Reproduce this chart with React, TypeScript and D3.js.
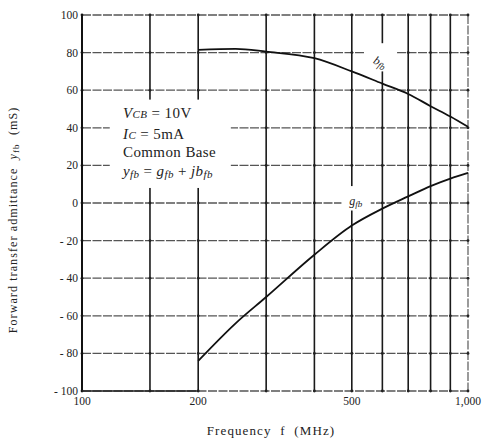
import React from "react";
import * as d3 from "d3";

const freqB = [200, 250, 300, 400, 500, 600, 700, 800, 900, 1000];
const bfb = [81.5, 82, 80.5, 77, 70, 63.5, 58, 51.5, 46, 40.5];
const freqG = [200, 250, 300, 400, 500, 600, 700, 800, 900, 1000];
const gfb = [-84, -64, -50, -27.5, -12, -3, 3.5, 9, 13, 16];
const xGrid = [100, 150, 200, 300, 400, 500, 600, 700, 800, 900, 1000];
const xTickLabels = [
  { v: 100, t: "100" },
  { v: 200, t: "200" },
  { v: 500, t: "500" },
  { v: 1000, t: "1,000" },
];
const yTicks = [100, 80, 60, 40, 20, 0, -20, -40, -60, -80, -100];

const W = 485;
const H = 444;
const left = 82;
const right = 468;
const top = 15;
const bottom = 391;
const SERIF = "'Liberation Serif', 'DejaVu Serif', serif";

export default function App() {
  const x = d3.scaleLog().domain([100, 1000]).range([left, right]);
  const y = d3.scaleLinear().domain([-100, 100]).range([bottom, top]);

  const line = d3
    .line<[number, number]>()
    .x((d) => x(d[0]))
    .y((d) => y(d[1]))
    .curve(d3.curveMonotoneX);

  const bPath = line(freqB.map((f, i) => [f, bfb[i]]) as [number, number][]) || "";
  const gPath = line(freqG.map((f, i) => [f, gfb[i]]) as [number, number][]) || "";

  // white gaps behind text (in data space)
  const gaps = [
    { x0: 118, x1: 243, y0: 8, y1: 55 },
    { x0: 540, x1: 655, y0: 70, y1: 85 },
    { x0: 470, x1: 560, y0: -4, y1: 9 },
  ];

  const fmtY = (v: number) => (v < 0 ? "- " + Math.abs(v) : String(v));

  return (
    <svg
      width={W}
      height={H}
      style={{ position: "absolute", left: 0, top: 0, background: "#fff" }}
      fontFamily={SERIF}
    >
      <rect x={0} y={0} width={W} height={H} fill="#fff" />
      {/* horizontal grid */}
      {yTicks.map((v) => (
        <line
          key={"h" + v}
          x1={left}
          x2={right}
          y1={y(v)}
          y2={y(v)}
          stroke="#555"
          strokeWidth={1.3}
          strokeDasharray="9,1.5"
        />
      ))}
      {/* vertical grid */}
      {xGrid.map((v) => (
        <line
          key={"v" + v}
          x1={x(v)}
          x2={x(v)}
          y1={top}
          y2={bottom}
          stroke={v === 1000 ? "#666" : "#1a1a1a"}
          strokeWidth={v === 1000 ? 1.3 : 1.6}
          strokeDasharray={v === 1000 ? "9,1.5" : undefined}
        />
      ))}
      {/* intersection dots */}
      {xGrid.flatMap((xv) =>
        yTicks.map((yv) => (
          <circle key={"d" + xv + "_" + yv} cx={x(xv)} cy={y(yv)} r={1.4} fill="#222" />
        ))
      )}
      {/* left axis */}
      <line x1={left} x2={left} y1={top - 1} y2={bottom + 1} stroke="#111" strokeWidth={2} />
      <line x1={left} x2={x(200)} y1={bottom} y2={bottom} stroke="#222" strokeWidth={1.6} />
      {/* gaps */}
      {gaps.map((g, i) => (
        <rect
          key={"g" + i}
          x={x(g.x0)}
          y={y(g.y1)}
          width={x(g.x1) - x(g.x0)}
          height={y(g.y0) - y(g.y1)}
          fill="#fff"
        />
      ))}
      {/* curves */}
      <path d={bPath} fill="none" stroke="#111" strokeWidth={1.8} />
      <path d={gPath} fill="none" stroke="#111" strokeWidth={1.8} />
      {/* y tick labels */}
      {yTicks.map((v) => (
        <text
          key={"yl" + v}
          x={left - 4}
          y={y(v)}
          dy="0.35em"
          textAnchor="end"
          fontSize={11.5}
          fill="#222"
        >
          {fmtY(v)}
        </text>
      ))}
      {/* x tick labels */}
      {xTickLabels.map((d) => (
        <text
          key={"xl" + d.v}
          x={x(d.v)}
          y={bottom + 14}
          textAnchor="middle"
          fontSize={11.5}
          fill="#222"
        >
          {d.t}
        </text>
      ))}
      {/* axis titles */}
      <text
        x={271}
        y={435}
        textAnchor="middle"
        fontSize={13}
        letterSpacing={1.1}
        fill="#222"
        style={{ whiteSpace: "pre" }}
      >
        {"Frequency  f  (MHz)"}
      </text>
      <text
        transform={`translate(17,220) rotate(-90)`}
        textAnchor="middle"
        fontSize={12}
        letterSpacing={1.1}
        fill="#222"
        style={{ whiteSpace: "pre" }}
      >
        {"Forward transfer admittance  "}
        <tspan fontStyle="italic">y</tspan>
        <tspan fontSize={9} dy={2}>fb</tspan>
        <tspan dy={-2}>{"  (mS)"}</tspan>
      </text>
      {/* condition box */}
      <g fontSize={15} fill="#222" letterSpacing={0.4}>
        <text x={123} y={118}>
          <tspan fontStyle="italic">V</tspan>
          <tspan fontStyle="italic" fontSize={11}>CB</tspan>
          <tspan>{" = 10V"}</tspan>
        </text>
        <text x={123} y={138.5}>
          <tspan fontStyle="italic">I</tspan>
          <tspan fontStyle="italic" fontSize={11}>C</tspan>
          <tspan>{" = 5mA"}</tspan>
        </text>
        <text x={123} y={157}>Common Base</text>
        <text x={123} y={176}>
          <tspan fontStyle="italic">y</tspan>
          <tspan fontStyle="italic" fontSize={11} dy={2}>fb</tspan>
          <tspan dy={-2}>{" = "}</tspan>
          <tspan fontStyle="italic">g</tspan>
          <tspan fontStyle="italic" fontSize={11} dy={2}>fb</tspan>
          <tspan dy={-2}>{" + "}</tspan>
          <tspan fontStyle="italic">jb</tspan>
          <tspan fontStyle="italic" fontSize={11} dy={2}>fb</tspan>
        </text>
      </g>
      {/* curve labels */}
      <text
        transform={`translate(${x(585)},${y(73)}) rotate(28)`}
        fontSize={12}
        fontStyle="italic"
        textAnchor="middle"
        fill="#222"
      >
        b
        <tspan fontSize={9} dy={2}>fb</tspan>
      </text>
      <text
        x={x(512)}
        y={y(-1)}
        fontSize={12}
        fontStyle="italic"
        textAnchor="middle"
        fill="#222"
      >
        g
        <tspan fontSize={9} dy={2}>fb</tspan>
      </text>
    </svg>
  );
}
